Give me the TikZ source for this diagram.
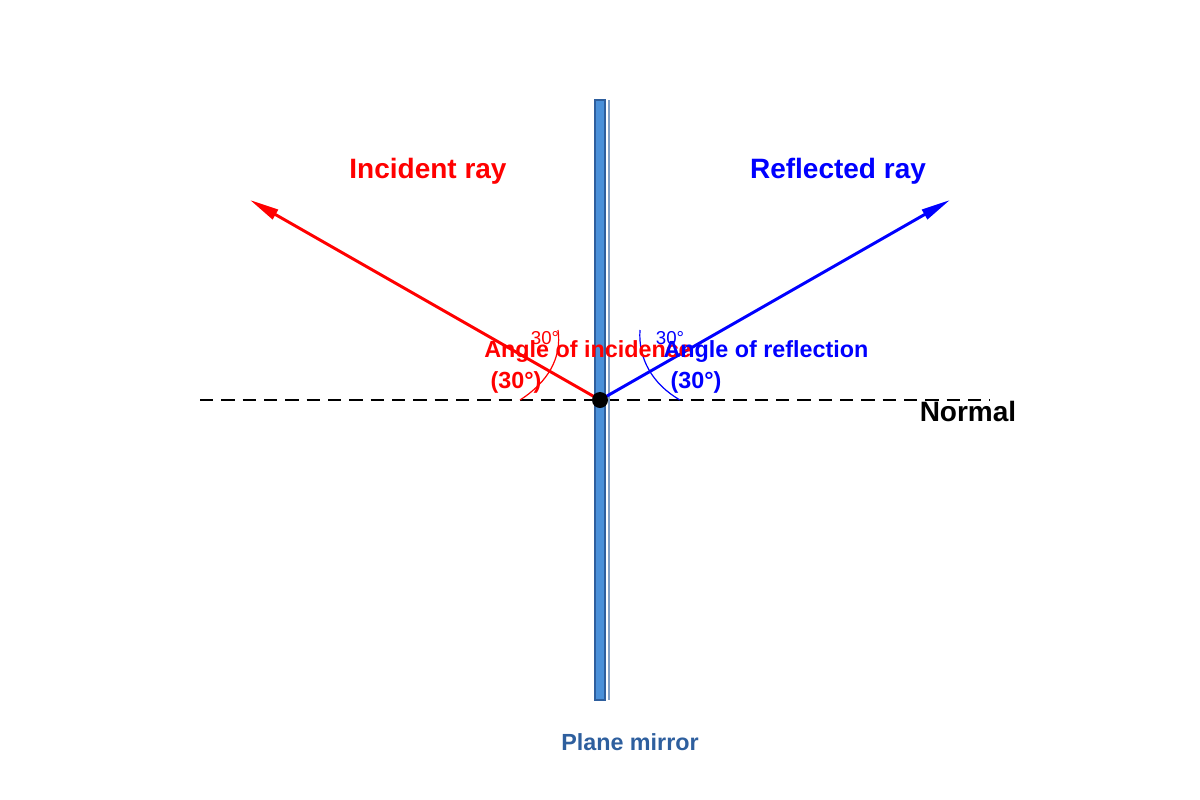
\documentclass[tikz,border=0pt]{standalone}
\usepackage{fontspec}
\setmainfont{Liberation Sans}
\usetikzlibrary{arrows.meta}
\definecolor{mirror}{HTML}{4A90D9}
\definecolor{mirrordark}{HTML}{2E5F9E}
\begin{document}
\begin{tikzpicture}[x=0.75pt,y=-0.75pt,
  ray/.style={line width=2.2pt,-{Triangle[length=22pt,width=8pt]}},
  head/.style={font=\fontsize{21}{23}\selectfont\bfseries},
  lab/.style={font=\fontsize{17.5}{19}\selectfont\bfseries},
  small/.style={font=\fontsize{14}{15}\selectfont}]
\useasboundingbox (0,0) rectangle (1200,800);
\draw[dashed,dash pattern=on 10pt off 6pt,line width=1.1pt] (200,400) -- (990,400);
\draw[fill=mirror,draw=mirrordark,line width=0.8pt] (595,100) rectangle (605,700);
\draw[color=mirrordark!60,line width=0.8pt] (609,100) -- (609,700);
\coordinate (O) at (600,400);
\coordinate (I) at (250,200);
\coordinate (R) at (950,200);
\draw[ray,red] (O) -- (I);
\draw[ray,blue] (O) -- (R);
\fill (O) circle (8);
\coordinate (r1) at (520,400);
\coordinate (r2) at (558,330);
\coordinate (b1) at (640,330);
\coordinate (b2) at (680,400);
\draw[red,line width=0.9pt] (r1) .. controls (548,382) and (562,358) .. (r2);
\draw[blue,line width=0.9pt] (b1) .. controls (638,358) and (652,384) .. (b2);
\node[small,red] (a1) at (545,338) {30°};
\node[small,blue] (a2) at (670,338) {30°};
\node[lab,red] (ai) at (588,352) {Angle of incidence};
\node[lab,red] (ai2) at (516,382) {(30°)};
\node[lab,blue] (ar) at (766,352) {Angle of reflection};
\node[lab,blue] (ar2) at (696,382) {(30°)};
\node[head] (n) at (968,411) {Normal};
\node[head,red] (ir) at (428,171) {Incident ray};
\node[head,blue] (rr) at (838,171) {Reflected ray};
\node[lab,color=mirrordark] (pm) at (630,742) {Plane mirror};
\end{tikzpicture}
\end{document}
